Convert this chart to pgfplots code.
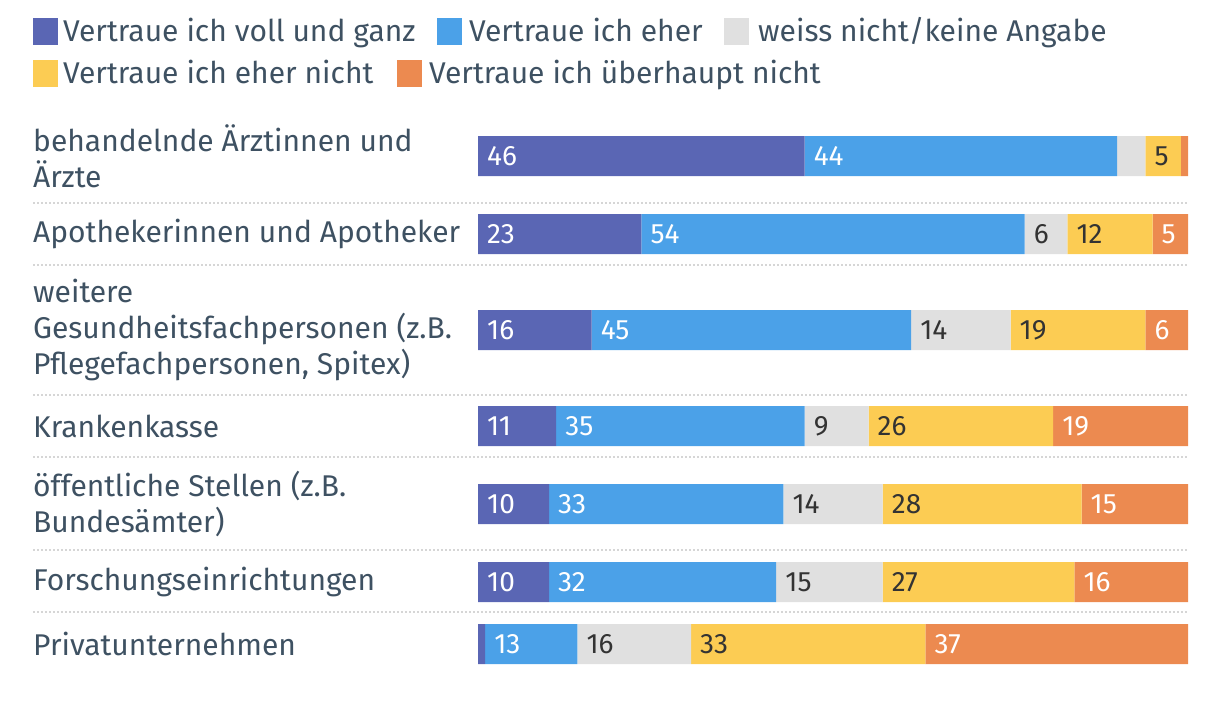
\documentclass[border=0pt]{standalone}
\usepackage{pgfplots}
\pgfplotsset{compat=1.18}
\usepackage{pgfplotstable}
\usepackage{fontspec}
\setmainfont{Fira Sans}
\definecolor{cA}{HTML}{5A66B4}
\definecolor{cB}{HTML}{4BA1E8}
\definecolor{cC}{HTML}{E0E0E0}
\definecolor{cD}{HTML}{FCCC53}
\definecolor{cE}{HTML}{EC8A50}
\definecolor{txt}{HTML}{3E5162}
\definecolor{darktxt}{HTML}{333333}
\definecolor{sep}{HTML}{D6D6D6}

% shares per category (percent)
\pgfplotstableread{
y a b c d e
-156 46 44 4 5 1
-234 23 54 6 12 5
-330 16 45 14 19 6
-426 11 35 9 26 19
-504 10 33 14 28 15
-582 10 32 15 27 16
-644 1 13 16 33 37
}\datatable

% value labels: segment start and value (white text)
\pgfplotstableread{
y start lab
-156 0 46
-156 46 44
-234 0 23
-234 23 54
-234 95 5
-330 0 16
-330 16 45
-330 94 6
-426 0 11
-426 11 35
-426 81 19
-504 0 10
-504 10 33
-504 85 15
-582 0 10
-582 10 32
-582 84 16
-644 1 13
-644 63 37
}\whitelabels

% value labels: segment start and value (dark text)
\pgfplotstableread{
y start lab
-156 94 5
-234 77 6
-234 83 12
-330 61 14
-330 75 19
-426 46 9
-426 55 26
-504 43 14
-504 57 28
-582 42 15
-582 57 27
-644 14 16
-644 30 33
}\darklabels

\newcommand{\legsq}[3]{%
  \fill[#1] (#2,#3) rectangle ++(25,-27);}

\pgfplotsset{
  commonaxis/.style={
    at={(478bp,-120bp)}, anchor=north west,
    scale only axis, width=710bp, height=560bp,
    xmin=0, xmax=100, ymin=-680, ymax=-120,
    axis line style={draw=none},
    major tick length=0pt,
    xtick=\empty,
    clip=false,
  },
  seglab/.style={
    only marks, mark=none,
    nodes near coords, point meta=explicit symbolic,
    every node near coord/.style={anchor=west, inner sep=0pt, xshift=9bp,
      text=#1, font=\fontsize{28bp}{28bp}\selectfont},
  },
}

\begin{document}
\begin{tikzpicture}[x=1bp,y=1bp]
\path[use as bounding box] (0,0) rectangle (1220,-716);
% legend
\begin{scope}[every node/.style={anchor=base west, inner sep=0pt, text=txt, font=\fontsize{30bp}{37bp}\selectfont}]
\legsq{cA}{33}{-18}
\node at (63,-42) {Vertraue ich voll und ganz};
\legsq{cB}{437}{-18}
\node at (469,-42) {Vertraue ich eher};
\legsq{cC}{724}{-18}
\node at (758,-42) {weiss nicht/keine Angabe};
\legsq{cD}{33}{-60}
\node at (63,-84) {Vertraue ich eher nicht};
\legsq{cE}{397}{-60}
\node at (429,-84) {Vertraue ich überhaupt nicht};
\end{scope}
% separators
\foreach \yy in {203,265,395,457,550,612}{
  \draw[sep, line width=1.6bp, dash pattern=on 1.6bp off 2.4bp] (33,-\yy) -- (1188,-\yy);
}
\begin{axis}[
  commonaxis,
  xbar stacked, bar width=40bp,
  ytick={-156,-234,-330,-426,-504,-582,-644},
  yticklabels={
    {behandelnde Ärztinnen und\\Ärzte},
    {Apothekerinnen und Apotheker},
    {weitere\\Gesundheitsfachpersonen (z.B.\\Pflegefachpersonen, Spitex)},
    {Krankenkasse},
    {öffentliche Stellen (z.B.\\Bundesämter)},
    {Forschungseinrichtungen},
    {Privatunternehmen}},
  yticklabel style={anchor=west, align=left, inner sep=0pt, xshift=-445bp,
    text=txt, font=\fontsize{30bp}{36bp}\selectfont},
]
\addplot[fill=cA, draw=none] table[x=a, y=y]{\datatable};
\addplot[fill=cB, draw=none] table[x=b, y=y]{\datatable};
\addplot[fill=cC, draw=none] table[x=c, y=y]{\datatable};
\addplot[fill=cD, draw=none] table[x=d, y=y]{\datatable};
\addplot[fill=cE, draw=none] table[x=e, y=y]{\datatable};
\end{axis}
\begin{axis}[
  commonaxis,
  ytick=\empty,
]
\addplot[seglab=white] table[x=start, y=y, meta=lab]{\whitelabels};
\addplot[seglab=darktxt] table[x=start, y=y, meta=lab]{\darklabels};
\end{axis}
\end{tikzpicture}
\end{document}
